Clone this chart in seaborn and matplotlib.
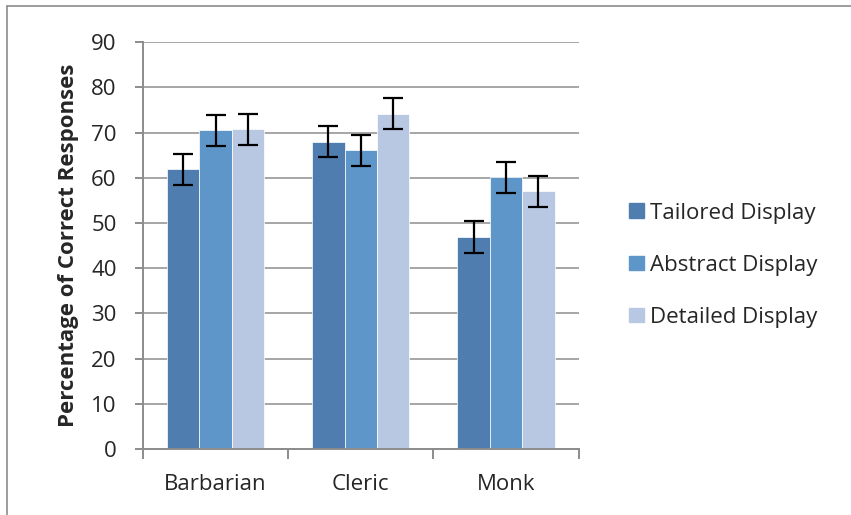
import pandas as pd
import matplotlib.pyplot as plt
import seaborn as sns
from matplotlib.lines import Line2D

# values
classes = ['Barbarian', 'Cleric', 'Monk']
displays = ['Tailored Display', 'Abstract Display', 'Detailed Display']
tailored = [61.9, 68.0, 46.9]
abstract = [70.5, 66.1, 60.1]
detailed = [70.7, 74.2, 57.0]
tailored_err = [3.4, 3.4, 3.5]
abstract_err = [3.5, 3.4, 3.4]
detailed_err = [3.5, 3.4, 3.4]
colors = ['#4F7DAF', '#5F96CA', '#B8C8E2']

rows = []
for disp, vals, errs in zip(displays, [tailored, abstract, detailed],
                            [tailored_err, abstract_err, detailed_err]):
    for c, v, e in zip(classes, vals, errs):
        rows.append({'class': c, 'display': disp, 'pct': v, 'err': e})
df = pd.DataFrame(rows)

sns.set_style("white")
plt.rcParams['font.family'] = ['Open Sans', 'DejaVu Sans']

fig = plt.figure(figsize=(8.51, 5.15), dpi=100)
ax = fig.add_axes([0.168, 0.128, 0.512, 0.79])

sns.barplot(data=df, x='class', y='pct', hue='display', hue_order=displays,
            palette=colors, width=0.67, errorbar=None, saturation=1,
            edgecolor='white', linewidth=0.5, ax=ax, zorder=2)

# error bars at the bar centres
for cont, disp in zip(ax.containers, displays):
    sub = df[df['display'] == disp]
    xs = [p.get_x() + p.get_width() / 2 for p in cont.patches]
    ax.errorbar(xs, sub['pct'], yerr=sub['err'], fmt='none', ecolor='black',
                elinewidth=1.6, capsize=7.5, capthick=1.6, zorder=3)

ax.set_ylim(0, 90)
ax.set_xlim(-0.5, 2.5)
ax.set_yticks(range(0, 91, 10))
ax.yaxis.grid(True, color='#A6A6A6', linewidth=1.4, zorder=0)
ax.set_axisbelow(True)

ax.set_xticks([-0.5, 0.5, 1.5, 2.5])
ax.set_xticklabels([])
ax.set_xticks([0, 1, 2], minor=True)
ax.set_xticklabels(classes, minor=True)
ax.tick_params(axis='x', which='major', length=7, color='#8C8C8C', width=1.4, direction='out')
ax.tick_params(axis='x', which='minor', length=0, pad=18, labelsize=16)
ax.tick_params(axis='y', length=6, color='#8C8C8C', width=1.4, direction='out', labelsize=16, pad=13)
ax.tick_params(bottom=True, left=True, which='major')

for s in ['top', 'right']:
    ax.spines[s].set_visible(False)
for s in ['left', 'bottom']:
    ax.spines[s].set_color('#8C8C8C')
    ax.spines[s].set_linewidth(1.4)

ax.set_xlabel('')
ax.set_ylabel('Percentage of Correct Responses', fontsize=16, fontweight='bold', labelpad=9)

ax.get_legend().remove()
handles = [plt.Rectangle((0, 0), 1, 1, color=c) for c in colors]
fig.legend(handles, displays, loc='center left', bbox_to_anchor=(0.716, 0.485),
           frameon=False, fontsize=16, handlelength=0.65, handleheight=0.65,
           handletextpad=0.3, labelspacing=1.4)

# outer chart border
fig.add_artist(Line2D([0.008, 0.008], [0, 0.988], color='#8C8C8C', lw=1.2))
fig.add_artist(Line2D([0.008, 1.0], [0.988, 0.988], color='#8C8C8C', lw=1.2))

plt.savefig('out.png', dpi=100)
